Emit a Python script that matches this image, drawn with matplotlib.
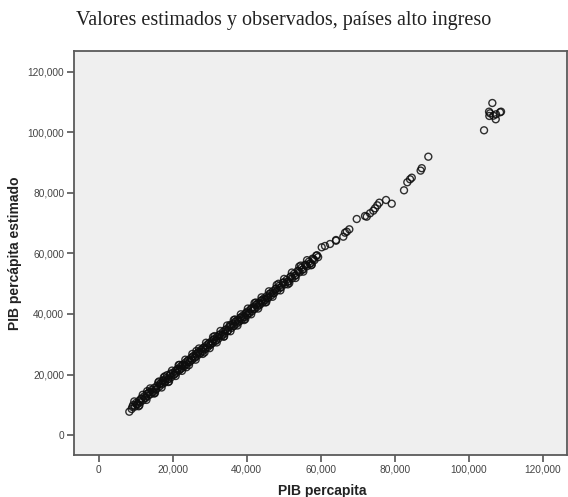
import matplotlib.pyplot as plt
from matplotlib.ticker import FuncFormatter

pib_obs = [
    8270, 8900, 9300, 9800, 10100, 10500, 10900, 11200, 11600, 12000,
    12300, 12700, 13000, 13300, 13700, 14000, 14300, 14700, 15000, 15400,
    15800, 16100, 16400, 16800, 17100, 17500, 17800, 18200, 18500, 18900,
    19200, 19600, 20000, 20300, 20700, 21000, 21400, 21700, 22100, 22400,
    22800, 23100, 23500, 23800, 24200, 24500, 24900, 25200, 25600, 25900,
    26300, 26600, 27000, 27300, 27700, 28000, 28400, 28700, 29100, 29400,
    29800, 30100, 30500, 30800, 31200, 31600, 32000, 32400, 32800, 33200,
    33600, 34000, 34400, 34800, 35200, 35500, 35900, 36200, 36600, 36900,
    37300, 37600, 38000, 38300, 38700, 39000, 39400, 39700, 40100, 40400,
    40800, 41100, 41500, 41800, 42200, 42500, 42900, 43200, 43600, 43900,
    44300, 44600, 45000, 45400, 45800, 46200, 46600, 47000, 47400, 47800,
    48300, 48800, 49300, 49800, 50300, 50800, 51300, 51800, 52300, 52800,
    53300, 53800, 54300, 54800, 55300, 55800, 56300, 56800, 57300, 57800,
    58300, 58800, 59300,
    9100, 10300, 11400, 12500, 13500, 14500, 15600, 16600, 17300, 18000,
    18700, 19400, 20500, 21200, 22000, 22600, 23300, 24000, 24700, 25400,
    26100, 26800, 27500, 28200, 28900, 29600, 30300, 31000, 31800, 32600,
    33400, 34200, 35000, 35700, 36400, 37100, 37800, 38500, 39200, 39900,
    40600, 41300, 42000, 42700, 43400, 44100, 44900, 45600, 46400, 47200,
    48000, 49000, 50000, 51000, 52000, 53000, 54000, 55000, 56000, 57000,
    58000, 59000,
    9600, 10800, 11900, 12900, 13900, 15200, 16300, 17000, 17900, 18800,
    19800, 20800, 21600, 22500, 23400, 24400, 25300, 26200, 27100, 28100,
    29000, 30000, 30900, 31900, 32900, 33800, 34700, 35600, 36500, 37500,
    38400, 39300, 40300, 41200, 42100, 43100, 44000, 45100, 46000, 47000,
    48100, 49100, 50100, 51100, 52200, 53200, 54200, 55300, 56300, 57400,
    11000, 13100, 15000, 17600, 19000, 21800, 23700, 26400, 28600, 31300,
    33900, 36800, 39600, 42400, 45300, 48600, 51500, 54600, 57600,
    60270, 61160, 62510, 64140, 64140, 66110, 67030, 67730, 66570, 69730,
    71970, 72430, 73320, 74220, 74680, 75300, 75840, 77650, 79190, 82510,
    83400, 84140, 84600, 87000, 87300, 89080,
    104140, 105490, 105570, 105760, 106380, 106650, 107300, 107380, 108460, 108730,
]
pib_est = [
    7700, 8600, 9900, 9400, 10600, 10200, 11300, 10800, 12100, 11500,
    12800, 12300, 13600, 12900, 14200, 13500, 14900, 14100, 15600, 15000,
    16300, 17400, 16000, 17200, 16700, 18100, 17300, 18700, 19800, 18500,
    19700, 19100, 20500, 19900, 21200, 20600, 21900, 21300, 22600, 22000,
    23300, 22700, 24000, 23400, 24700, 24100, 25400, 24800, 26100, 25500,
    26800, 26200, 27500, 26900, 28200, 27600, 28900, 28300, 29600, 29000,
    30300, 29700, 31000, 30400, 31700, 31100, 32500, 31900, 33300, 32700,
    34100, 33500, 34900, 34300, 35700, 36400, 35400, 36700, 36100, 37400,
    36800, 38100, 37500, 38800, 38200, 39500, 38900, 40200, 39600, 40900,
    40300, 41600, 41000, 42300, 41700, 43000, 42400, 43700, 43100, 44400,
    43800, 45100, 44500, 45900, 45300, 46700, 46100, 47500, 46900, 48300,
    47800, 49300, 48800, 50300, 49800, 51300, 50800, 52300, 51800, 53300,
    52800, 54300, 53800, 55300, 54800, 56300, 55800, 57300, 56800, 58300,
    57800, 59300, 58800,
    9300, 10100, 11900, 12200, 13900, 14300, 15200, 16900, 17900, 17700,
    18400, 20300, 20100, 21600, 21700, 23100, 23000, 24500, 24300, 25900,
    25800, 27200, 27100, 28700, 28600, 30100, 30000, 31500, 31400, 33000,
    33100, 34700, 34600, 36100, 36000, 37600, 37500, 38900, 39000, 40500,
    40400, 41900, 41800, 43200, 43100, 44600, 44700, 45400, 46800, 46800,
    48400, 48700, 50500, 50600, 52400, 52600, 54200, 54600, 56200, 56600,
    58100, 59400,
    11100, 9500, 13300, 11600, 15400, 13900, 17700, 15700, 19400, 17500,
    21300, 19500, 23100, 21200, 24900, 23100, 26800, 24900, 28600, 26800,
    30500, 28700, 32400, 30600, 34400, 32500, 36200, 34300, 38000, 36200,
    39900, 38000, 41800, 39900, 43600, 41800, 45500, 43800, 47500, 45700,
    49600, 47800, 51600, 49800, 53700, 51900, 55700, 54000, 57800, 56100,
    9800, 14500, 13700, 19100, 17700, 23200, 22400, 27800, 27300, 32700,
    32600, 38200, 38300, 43800, 44000, 50000, 50200, 56000, 56300,
    62050, 62480, 63140, 64460, 64230, 65560, 67210, 68000, 66880, 71400,
    72400, 72170, 73290, 74150, 74940, 75930, 76800, 77690, 76460, 80890,
    83540, 84530, 85060, 87400, 88200, 92000,
    100730, 106880, 105460, 106350, 109750, 105560, 104370, 106010, 106680, 106880,
]

x_ticks = [0, 20000, 40000, 60000, 80000, 100000, 120000]
y_ticks = [0, 20000, 40000, 60000, 80000, 100000, 120000]

fig = plt.figure(figsize=(5.68, 4.97), dpi=100)
ax = fig.add_axes([0.1303, 0.0845, 0.868, 0.8129])
ax.set_facecolor('#efefef')

ax.scatter(pib_obs, pib_est, s=25, facecolors='none', edgecolors='#0d0d0d',
           linewidths=1.0, alpha=0.85)

ax.set_xlim(-6676, 126568)
ax.set_ylim(-6612, 126942)
ax.set_xticks(x_ticks)
ax.set_yticks(y_ticks)
fmt = FuncFormatter(lambda v, p: '{:,}'.format(int(v)))
ax.xaxis.set_major_formatter(fmt)
ax.yaxis.set_major_formatter(fmt)

for s in ax.spines.values():
    s.set_color('#5a5a5a')
    s.set_linewidth(1.3)

ax.tick_params(direction='out', length=5, width=1.2, color='#555555',
               labelsize=7.3, labelcolor='#444444', pad=2)
for lab in ax.get_xticklabels() + ax.get_yticklabels():
    lab.set_family('Liberation Sans')

fig.text(0.5, 0.958, 'Valores estimados y observados, países alto ingreso',
         ha='center', va='center', fontsize=14.5, family='Liberation Serif',
         color='#222222')
fig.text(0.567, 0.012, 'PIB percapita', ha='center', va='center',
         fontsize=10, fontweight='bold', family='Liberation Sans', color='#222222')
fig.text(0.027, 0.491, 'PIB percápita estimado', ha='center', va='center',
         rotation=90, fontsize=10, fontweight='bold', family='Liberation Sans',
         color='#222222')

fig.savefig('out.png', dpi=100)
